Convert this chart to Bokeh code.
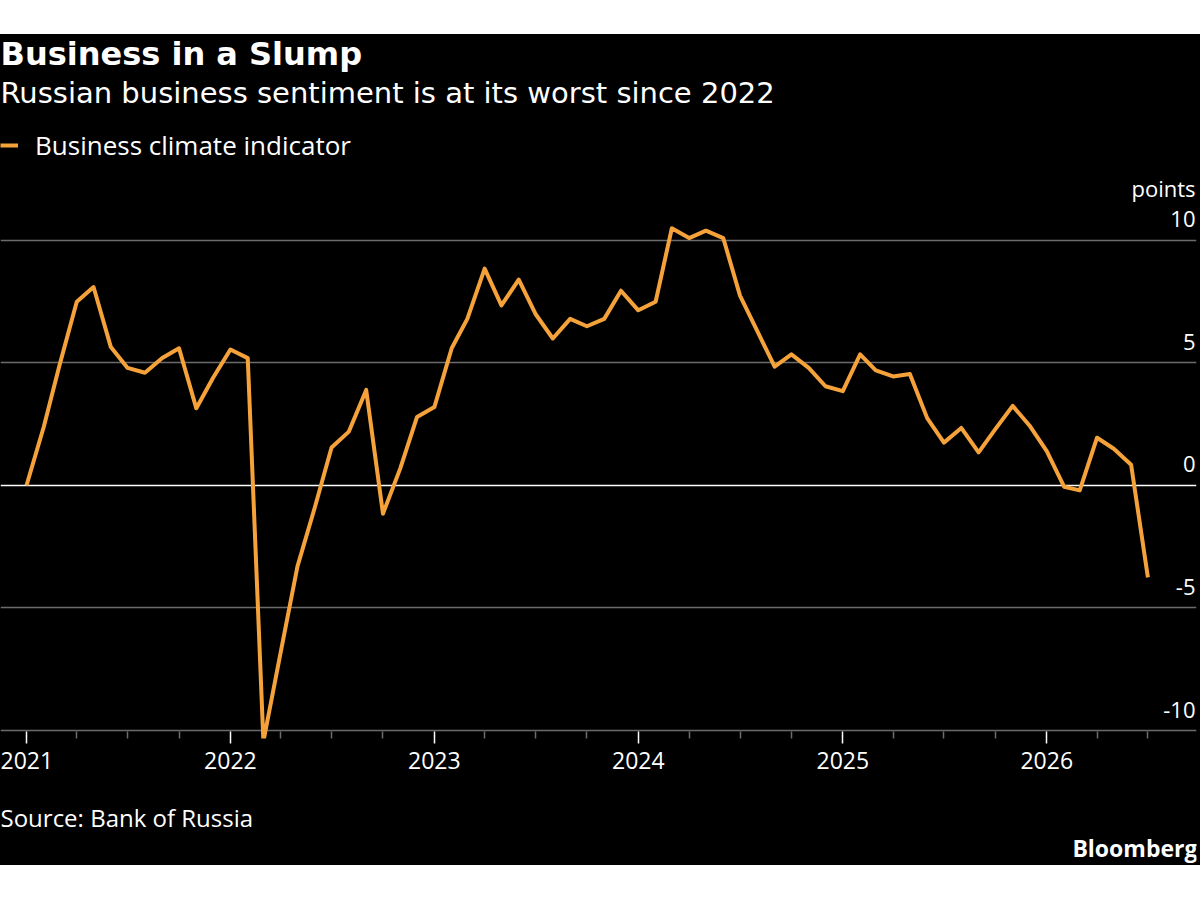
import pandas as pd
from bokeh.plotting import figure
from bokeh.models import (Range1d, FixedTicker, DatetimeTickFormatter, Grid, Label,
                          Legend, LegendItem, ColumnDataSource, Spacer)
from bokeh.layouts import column
from bokeh.core.properties import value
from bokeh.embed import file_html
from bokeh.resources import INLINE

# ---------------- data ----------------
TITLE = "Business in a Slump"
SUBTITLE = "Russian business sentiment is at its worst since 2022"
SERIES_NAME = "Business climate indicator"
UNIT = "points"
SOURCE = "Source: Bank of Russia"
BRAND = "Bloomberg"

first_month = "2021-01-01"
last_month = "2026-07-01"
business_climate = [
    0.0, 2.4, 4.9, 7.5, 8.1, 5.65, 4.8, 4.6, 5.2, 5.6, 3.15, 4.4,      # 2021
    5.55, 5.2, -10.45, -6.8, -3.3, -0.9, 1.55, 2.2, 3.9, -1.15, 0.7, 2.8,  # 2022
    3.2, 5.6, 6.8, 8.85, 7.35, 8.4, 7.0, 6.0, 6.8, 6.5, 6.8, 7.95,     # 2023
    7.15, 7.5, 10.5, 10.1, 10.4, 10.1, 7.75, 6.3, 4.85, 5.35, 4.8, 4.05,  # 2024
    3.85, 5.35, 4.7, 4.45, 4.55, 2.75, 1.75, 2.35, 1.35, 2.3, 3.25, 2.45,  # 2025
    1.4, -0.05, -0.2, 1.95, 1.5, 0.85, -3.75,                          # 2026
]
y_ticks = [-10, -5, 0, 5, 10]
y_tick_labels = ["-10", "-5", "0", "5", "10"]
year_ticks = ["2021-01-01", "2022-01-01", "2023-01-01", "2024-01-01", "2025-01-01", "2026-01-01"]
x_start = "2020-11-15 12:00"
x_end = "2026-09-26"

# ---------------- style ----------------
FONT = "Open Sans"
HEAD_FONT = "DejaVu Sans"
ORANGE = "#f6a23b"
GRID = "#6b6b6b"
BG = "black"
BLACK_STYLE = {"background-color": BG}

dates = pd.date_range(first_month, last_month, freq="MS")
quarters = [d for d in pd.date_range("2021-01-01", "2026-09-01", freq="QS") if d.month != 1]
to_ms = lambda d: pd.Timestamp(d).value / 1e6


def text_panel(height):
    f = figure(width=1200, height=height, output_backend="svg", toolbar_location=None,
               x_axis_location=None, y_axis_location=None,
               background_fill_color=BG, border_fill_color=BG, outline_line_color=None,
               min_border_left=0, min_border_right=0, min_border_top=0, min_border_bottom=0,
               styles=BLACK_STYLE)
    f.grid.visible = False
    return f


def canvas_label(x, y, text, size, font=FONT, bold=False, align="left"):
    return Label(x=x, y=y, x_units="canvas", y_units="canvas", text=text,
                 text_font=font, text_font_size=size,
                 text_font_style="bold" if bold else "normal",
                 text_color="white", text_baseline="alphabetic", text_align=align)


# ---------------- header ----------------
header = text_panel(93)
header.add_layout(canvas_label(0, 19, TITLE, "32px", font=HEAD_FONT, bold=True))
header.add_layout(canvas_label(0, 58, SUBTITLE, "29px", font=HEAD_FONT))

# ---------------- main chart ----------------
y_hi = 14.612
y_lo = -10.3265

p = figure(width=1200, height=661, x_axis_type="datetime",
           x_range=Range1d(pd.Timestamp(x_start), pd.Timestamp(x_end)),
           y_range=Range1d(y_lo, y_hi),
           output_backend="svg", toolbar_location=None,
           background_fill_color=BG, border_fill_color=BG, outline_line_color=None,
           min_border_left=0, min_border_right=4, min_border_top=0, min_border_bottom=50,
           y_axis_location=None, styles=BLACK_STYLE)

p.xgrid.visible = False
p.ygrid.ticker = FixedTicker(ticks=[t for t in y_ticks if t != 0])
p.ygrid.grid_line_color = GRID
p.ygrid.grid_line_width = 1.5
p.add_layout(Grid(dimension=1, ticker=FixedTicker(ticks=[0]),
                  grid_line_color="white", grid_line_width=1.5))

xa = p.xaxis[0]
xa.ticker = FixedTicker(ticks=[to_ms(d) for d in year_ticks],
                        minor_ticks=[to_ms(d) for d in quarters])
fmt = "%Y"
xa.formatter = DatetimeTickFormatter(microseconds=fmt, milliseconds=fmt, seconds=fmt, minsec=fmt,
                                     minutes=fmt, hourmin=fmt, hours=fmt, days=fmt,
                                     months=fmt, years=fmt)
xa.axis_line_color = None
xa.major_tick_line_color = "white"
xa.major_tick_line_width = 1.5
xa.major_tick_in = 7
xa.major_tick_out = 5
xa.minor_tick_line_color = GRID
xa.minor_tick_line_width = 1.5
xa.minor_tick_in = 7
xa.minor_tick_out = 0
xa.major_label_text_font = FONT
xa.major_label_text_font_size = "23px"
xa.major_label_text_color = "white"
xa.major_label_standoff = 8

line = p.line(x=dates, y=business_climate, line_color=ORANGE, line_width=4, line_join="round")

ysrc = ColumnDataSource(dict(x=[pd.Timestamp(x_end)] * len(y_ticks), y=y_ticks, text=y_tick_labels))
p.text(x="x", y="y", text="text", source=ysrc, text_align="right", text_baseline="alphabetic",
       x_offset=-1, y_offset=-21, text_color="white", text_font=value(FONT), text_font_size="22px")
usrc = ColumnDataSource(dict(x=[pd.Timestamp(x_end)], y=[y_ticks[-1]], text=[UNIT]))
p.text(x="x", y="y", text="text", source=usrc, text_align="right", text_baseline="alphabetic",
       x_offset=-1, y_offset=-52, text_color="white", text_font=value(FONT), text_font_size="22px")

legend = Legend(items=[LegendItem(label=SERIES_NAME, renderers=[line])], location="top_left",
                background_fill_alpha=0, border_line_color=None, margin=0, padding=1, spacing=0,
                label_text_font=FONT, label_text_font_size="26px", label_text_color="white",
                glyph_width=18, glyph_height=18, label_standoff=17, label_height=18)
p.add_layout(legend)

# ---------------- footer ----------------
footer = text_panel(77)
footer.add_layout(canvas_label(0, 29, SOURCE, "24px"))
footer.add_layout(canvas_label(1197, 59, BRAND, "23px", bold=True, align="right"))

layout = column(Spacer(width=1200, height=34, styles={"background-color": "white"}),
                header, p, footer, styles=BLACK_STYLE)
open("out.html", "w").write(file_html(layout, INLINE))
